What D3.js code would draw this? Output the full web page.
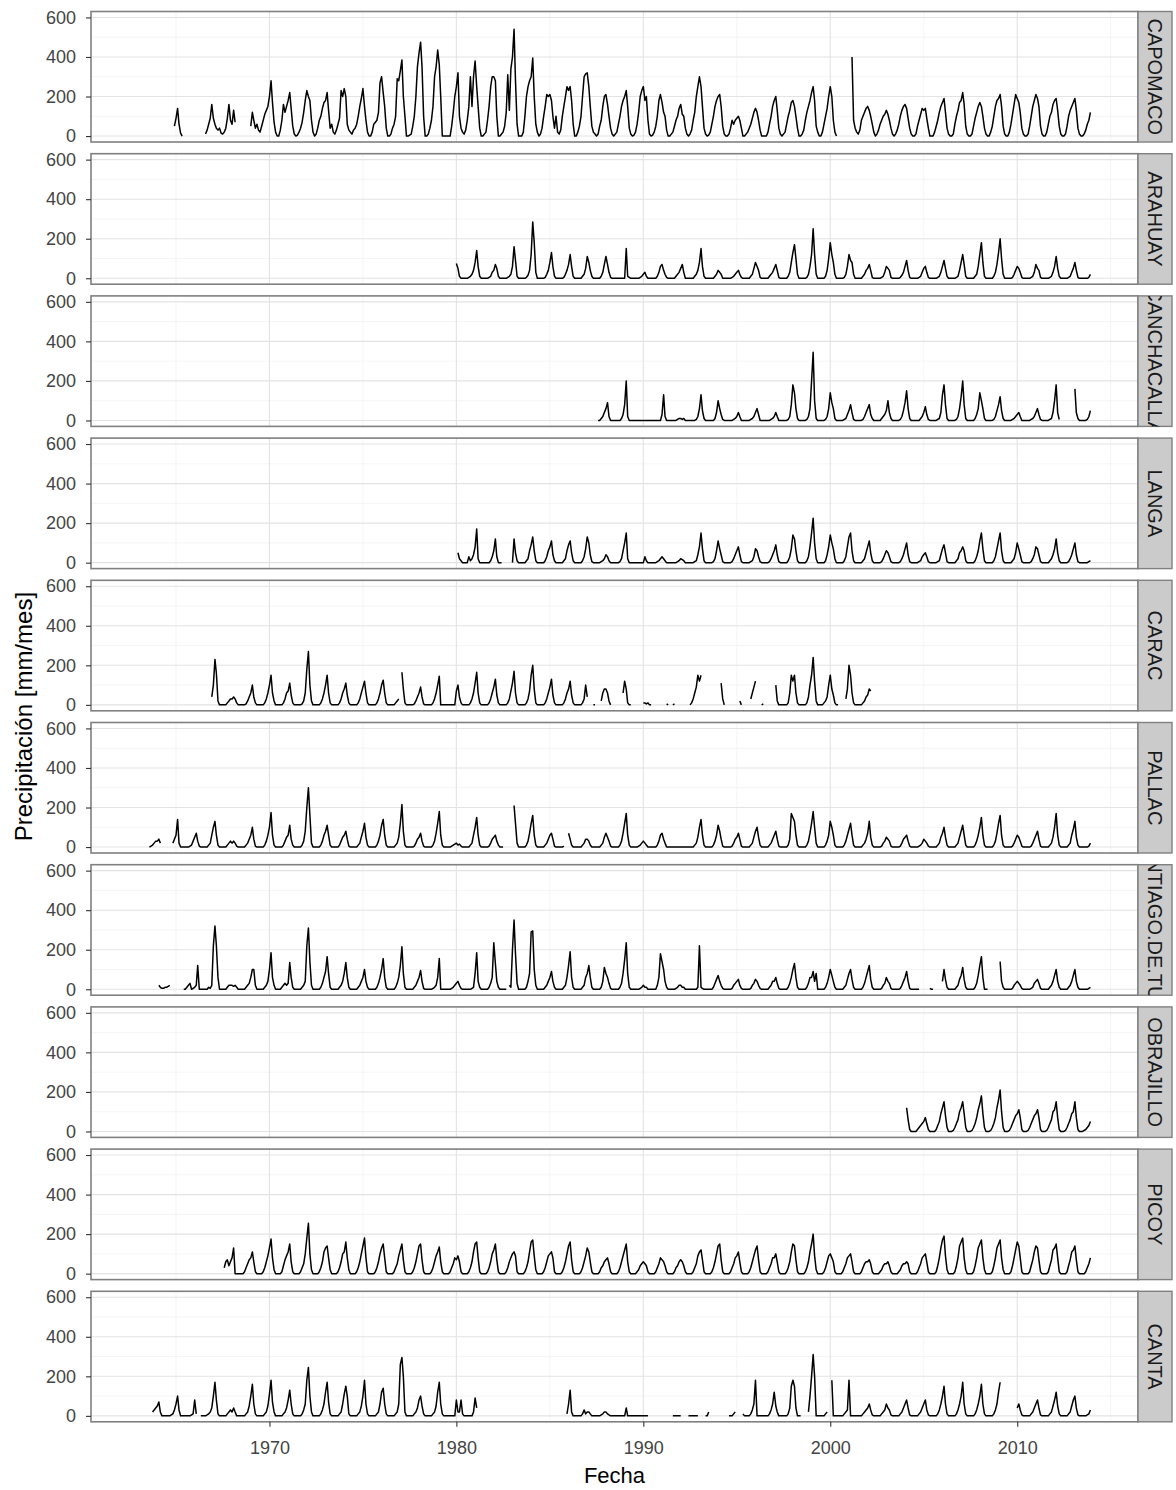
<!DOCTYPE html>
<html><head><meta charset="utf-8">
<script src="https://cdn.jsdelivr.net/npm/d3@7"></script>
<style>
body{margin:0;background:#fff}
svg{display:block}
text{font-family:"Liberation Sans",Arial,Helvetica,sans-serif}
</style>
</head><body>
<svg id="chart" width="1176" height="1490"></svg>
<script>
const N = null;

// Monthly precipitation (mm/mes), one row per year, Jan..Dec. null = missing.
const stationNames = ["CAPOMACO","ARAHUAY","CANCHACALLA","LANGA","CARAC","PALLAC","SANTIAGO.DE.TUNA","OBRAJILLO","PICOY","CANTA"];
const startYears   = [1964, 1980, 1987, 1980, 1966, 1963, 1963, 2004, 1967, 1963];

const capomaco = [
[N,N,N,N,N,N,N,N,N,N,N,50],
[90,140,60,15,0,N,N,N,N,N,N,N],
[N,N,N,N,N,N,N,10,30,60,90,160],
[90,60,40,30,40,15,10,20,40,90,160,80],
[60,130,70,N,N,N,N,N,N,N,N,N],
[50,120,80,40,60,30,20,50,80,110,130,150],
[200,280,170,70,20,0,0,30,80,160,120,150],
[180,220,140,50,10,0,5,20,40,70,120,180],
[230,200,180,80,20,0,10,40,80,100,140,170],
[180,220,130,40,60,20,10,30,60,90,230,200],
[240,200,60,30,20,10,30,40,60,100,150,190],
[240,150,80,20,0,0,20,60,70,80,120,270],
[300,220,150,40,0,0,10,40,60,100,290,280],
[330,385,200,100,0,0,5,10,50,100,200,350],
[420,475,350,100,0,0,10,40,80,150,300,350],
[435,360,200,0,0,0,0,0,0,50,120,200],
[250,320,100,40,20,10,30,80,150,300,150,300],
[380,250,150,40,0,0,10,20,80,150,250,300],
[300,280,100,0,0,10,20,50,120,310,130,340],
[400,540,280,60,0,0,0,20,100,200,250,280],
[300,395,200,60,20,0,10,40,100,150,210,200],
[210,180,100,40,100,20,10,30,100,150,200,250],
[230,250,180,60,0,0,20,50,100,200,300,315],
[320,250,150,50,20,10,0,10,50,80,150,200],
[210,160,100,40,10,0,10,20,60,100,150,180],
[200,230,150,40,10,0,5,20,60,120,200,230],
[250,180,200,80,10,0,5,20,50,100,180,210],
[170,120,100,30,0,0,10,20,50,80,100,140],
[160,110,100,40,10,0,10,30,80,120,200,250],
[300,250,150,40,10,0,5,20,60,100,150,180],
[200,210,150,50,10,0,0,10,40,80,60,80],
[90,100,80,40,0,0,10,20,40,60,90,120],
[140,120,80,30,0,0,0,0,20,60,100,150],
[180,200,130,40,10,0,10,20,60,100,130,170],
[180,150,100,40,0,0,10,30,80,120,150,180],
[220,250,180,50,20,0,0,20,60,100,140,200],
[250,200,80,20,0,N,N,N,N,N,N,N],
[N,N,400,80,40,20,10,30,80,100,120,140],
[150,130,100,60,20,0,10,30,60,80,100,110],
[130,110,80,40,10,0,10,30,60,100,130,150],
[160,140,90,40,10,0,0,10,50,80,110,140],
[130,140,90,40,0,0,0,20,50,80,120,150],
[170,190,120,40,10,0,0,10,60,100,130,170],
[180,220,160,50,10,0,0,10,50,90,120,150],
[170,150,100,40,10,0,0,20,50,100,150,180],
[190,210,150,50,10,0,0,20,60,110,160,210],
[190,170,120,40,10,0,0,10,50,100,150,180],
[210,190,150,50,10,0,0,20,60,100,120,160],
[180,190,130,50,10,0,0,10,50,100,130,150],
[170,190,130,40,10,0,0,10,30,60,80,120]
];

const arahuay = [
[75,50,10,0,0,0,0,0,5,10,20,40],
[80,140,60,10,0,0,0,0,0,5,10,30],
[40,70,50,10,0,0,0,0,0,5,10,20],
[60,160,90,10,0,0,0,0,0,5,15,40],
[120,285,180,30,0,0,0,0,0,5,20,40],
[80,130,60,10,0,0,0,0,0,5,20,40],
[70,120,60,10,0,0,0,0,0,10,20,50],
[110,80,40,10,0,0,0,0,0,10,30,70],
[110,70,30,5,0,0,0,0,0,0,0,0],
[0,150,10,5,0,0,0,0,0,0,5,10],
[20,30,10,0,0,0,0,0,0,10,30,60],
[70,40,20,5,0,0,0,0,0,10,20,30],
[50,70,30,0,0,0,0,0,0,10,20,40],
[80,150,60,10,0,0,0,0,0,0,10,20],
[40,30,20,0,0,0,0,0,0,5,10,20],
[30,40,20,5,0,0,0,0,0,10,20,50],
[80,60,40,5,0,0,0,0,0,10,20,30],
[50,70,40,5,0,0,0,0,0,10,30,80],
[130,170,100,20,0,0,0,0,0,5,20,60],
[120,250,120,20,0,0,0,0,0,10,40,100],
[180,120,80,20,0,0,0,0,0,5,20,60],
[120,90,80,20,0,0,0,0,0,10,20,40],
[50,70,40,5,0,0,0,0,0,5,10,30],
[60,50,40,5,0,0,0,0,0,5,15,30],
[60,90,40,5,0,0,0,0,0,5,10,30],
[50,60,30,5,0,0,0,0,0,5,10,30],
[60,90,50,10,0,0,0,0,0,5,10,40],
[80,120,70,10,0,0,0,0,0,10,20,60],
[120,180,80,10,0,0,0,0,0,10,30,70],
[130,200,100,20,0,0,0,0,0,5,20,40],
[60,50,30,5,0,0,0,0,0,5,10,30],
[70,50,40,5,0,0,0,0,0,5,10,30],
[60,110,50,10,0,0,0,0,0,5,10,30],
[50,80,40,5,0,0,0,0,0,0,5,20]
];

const canchacalla = [
[N,N,N,N,N,N,N,0,0,10,20,40],
[60,90,20,0,0,0,0,0,0,0,10,30],
[80,200,20,0,0,0,0,0,0,0,0,0],
[0,0,0,0,0,0,0,0,0,0,0,0],
[30,130,20,0,0,0,0,0,0,0,5,10],
[10,5,10,0,0,0,0,0,0,0,5,20],
[60,130,50,10,0,0,0,0,0,0,10,40],
[100,60,30,5,0,0,0,0,0,0,5,10],
[20,40,20,0,0,0,0,0,0,5,10,20],
[40,60,30,0,0,0,0,0,0,0,5,10],
[20,40,20,0,0,0,0,0,0,5,20,80],
[180,140,60,10,0,0,0,0,0,5,20,60],
[200,345,100,10,0,0,0,0,0,5,20,60],
[140,90,60,10,0,0,0,0,0,5,10,30],
[50,80,40,5,0,0,0,0,0,5,20,40],
[60,80,30,10,0,0,0,0,0,10,20,30],
[50,100,40,10,0,0,0,0,0,5,20,50],
[90,150,60,10,0,0,0,0,0,0,10,20],
[40,70,30,5,0,0,0,0,0,5,10,40],
[130,180,80,10,0,0,0,0,0,5,20,60],
[120,200,80,10,0,0,0,0,0,10,30,60],
[140,100,60,10,0,0,0,0,0,5,20,50],
[80,120,50,10,0,0,0,0,0,5,10,20],
[30,40,20,0,0,0,0,0,0,5,10,20],
[40,60,30,5,0,0,0,0,0,5,10,40],
[100,180,40,5,N,N,N,N,N,N,N,N],
[N,160,40,10,0,0,0,0,0,5,20,50]
];

const langa = [
[N,50,20,10,0,0,0,0,30,10,20,40],
[80,170,20,0,0,0,0,0,0,0,10,30],
[60,120,30,0,0,0,N,N,N,N,N,N],
[0,120,50,10,0,0,0,0,0,10,20,60],
[90,130,60,10,0,0,0,0,0,10,30,60],
[80,110,40,10,0,0,0,0,0,10,20,60],
[90,110,50,10,0,0,0,0,0,10,30,70],
[130,100,40,5,0,0,0,0,0,5,10,20],
[40,30,10,0,0,0,0,0,0,5,20,60],
[100,150,20,0,0,0,0,0,0,0,0,0],
[0,30,10,0,0,0,0,0,0,5,10,20],
[30,20,10,0,0,0,0,0,0,0,5,10],
[20,15,10,0,0,0,0,0,0,5,10,40],
[80,150,70,10,0,0,0,0,0,5,20,60],
[110,70,40,5,0,0,0,0,0,5,20,40],
[60,80,40,5,0,0,0,0,0,5,10,30],
[70,60,30,5,0,0,0,0,0,5,20,40],
[60,90,40,5,0,0,0,0,0,10,30,70],
[140,120,60,10,0,0,0,0,0,10,30,80],
[150,225,100,20,0,0,0,0,0,10,40,80],
[140,100,70,20,0,0,0,0,0,10,30,80],
[130,150,60,10,0,0,0,0,0,10,20,50],
[80,110,50,10,0,0,0,0,0,5,20,40],
[60,50,30,5,0,0,0,0,0,5,20,40],
[70,100,40,5,0,0,0,0,0,5,10,30],
[40,50,30,5,0,0,0,0,0,5,10,40],
[70,90,50,5,0,0,0,0,0,10,20,50],
[60,80,60,10,0,0,0,0,0,10,30,60],
[110,150,70,10,0,0,0,0,0,10,30,70],
[110,150,60,10,0,0,0,0,0,10,20,50],
[100,70,40,5,0,0,0,0,0,5,20,40],
[80,70,40,5,0,0,0,0,0,10,20,40],
[70,120,50,10,0,0,0,0,0,5,20,40],
[70,100,40,5,0,0,0,0,0,0,5,10]
];

const carac = [
[N,N,N,N,N,N,N,N,N,N,N,40],
[100,230,160,20,0,0,0,0,0,10,20,30],
[30,40,30,10,0,0,0,0,0,5,20,40],
[60,100,40,10,0,0,0,0,0,10,30,60],
[100,150,60,20,0,0,0,0,0,10,30,60],
[70,110,50,10,0,0,0,0,0,5,20,60],
[180,270,100,20,0,0,0,0,0,10,30,60],
[100,150,60,10,0,0,0,0,0,10,30,60],
[80,110,50,10,0,0,0,0,0,10,30,60],
[90,120,60,10,0,0,0,0,0,10,30,60],
[100,125,60,10,0,0,0,0,0,10,20,30],
[N,165,80,10,0,0,0,0,0,5,20,40],
[60,90,40,5,0,0,0,0,0,10,30,60],
[100,145,0,0,0,0,0,0,0,0,0,0],
[70,100,40,10,0,0,0,0,0,10,30,60],
[110,165,60,10,0,0,0,0,0,10,30,60],
[90,130,50,10,0,0,0,0,0,10,30,70],
[110,170,60,10,0,0,0,0,0,10,30,70],
[150,200,80,10,0,0,0,0,0,10,30,60],
[90,130,50,10,0,0,0,0,0,10,30,60],
[80,120,50,10,0,0,0,0,0,10,30,100],
[40,N,N,N,0,0,N,N,N,20,60,80],
[80,60,20,0,N,N,N,N,N,N,N,60],
[120,80,10,0,0,N,N,N,N,N,N,N],
[10,10,5,10,0,0,N,N,N,N,N,N],
[N,N,N,5,0,N,N,0,5,N,N,N],
[N,N,N,N,N,N,0,10,30,60,90,150],
[120,150,N,N,N,N,N,N,N,N,N,N],
[N,N,110,30,0,N,N,N,N,N,N,N],
[N,N,20,0,N,N,N,N,N,30,60,90],
[120,N,N,N,0,5,N,N,N,N,N,N],
[N,100,20,0,0,0,0,0,0,10,60,150],
[120,150,60,10,0,0,0,0,0,10,40,100],
[150,240,120,20,0,0,0,0,10,20,40,100],
[150,80,50,10,0,0,N,N,N,N,30,80],
[200,150,60,10,0,0,0,0,0,10,20,40],
[50,80,70,N,N,N,N,N,N,N,N,N]
];

const pallac = [
[N,N,N,N,N,N,N,0,5,10,20,30],
[30,40,20,N,N,N,N,N,N,N,20,40],
[60,140,20,0,0,0,0,0,0,5,10,30],
[50,70,30,5,0,0,0,0,0,10,20,60],
[100,130,60,10,0,0,0,0,0,10,20,30],
[20,30,20,5,0,0,0,0,0,10,20,40],
[60,100,40,5,0,0,0,0,0,10,30,60],
[100,175,60,10,0,0,0,0,0,10,30,50],
[60,110,40,10,0,0,0,0,0,10,30,80],
[200,300,160,20,0,0,0,0,0,10,30,60],
[80,110,60,10,0,0,0,0,0,10,30,50],
[60,80,40,5,0,0,0,0,0,10,20,50],
[80,120,50,10,0,0,0,0,0,10,30,60],
[110,140,60,10,0,0,0,0,0,10,20,50],
[120,215,80,10,0,0,0,0,0,5,20,40],
[50,70,30,5,0,0,0,0,0,10,30,70],
[120,180,60,10,0,0,0,0,0,5,10,15],
[20,10,15,5,0,0,0,0,0,10,20,60],
[100,150,60,10,0,0,0,0,0,5,20,40],
[50,60,30,10,0,0,0,N,N,N,N,N],
[N,210,120,20,0,0,0,0,0,10,30,70],
[120,160,60,10,0,0,0,0,0,10,20,40],
[60,70,40,5,0,0,0,0,0,5,N,N],
[70,40,10,0,0,0,0,0,0,10,20,40],
[40,30,10,0,0,0,0,0,0,10,20,50],
[70,50,30,5,0,0,0,0,0,10,30,70],
[120,170,60,10,0,0,0,0,0,5,10,20],
[30,20,10,0,0,0,0,0,0,10,30,60],
[70,40,20,0,0,0,0,0,0,0,0,0],
[0,0,0,0,0,0,0,0,0,10,20,50],
[100,140,60,10,0,0,0,0,0,10,30,60],
[110,80,40,5,0,0,0,0,0,5,20,40],
[50,70,40,5,0,0,0,0,0,10,20,50],
[80,100,50,10,0,0,0,0,0,10,20,40],
[60,80,40,5,0,0,0,0,0,10,40,170],
[150,130,60,10,0,0,0,0,0,10,30,70],
[120,180,100,20,0,0,0,0,0,10,30,60],
[130,100,60,10,0,0,0,0,0,10,30,60],
[90,120,60,10,0,0,0,0,0,10,20,40],
[70,130,50,10,0,0,0,0,0,5,20,30],
[50,40,30,5,0,0,0,0,0,5,20,40],
[50,60,30,5,0,0,0,0,0,5,10,20],
[40,30,20,5,0,0,0,0,0,10,20,50],
[70,100,50,10,0,0,0,0,0,10,20,50],
[80,110,60,10,0,0,0,0,0,10,30,60],
[100,150,60,10,0,0,0,0,0,10,30,70],
[120,160,60,10,0,0,0,0,0,5,20,40],
[60,50,30,5,0,0,0,0,0,5,20,40],
[60,80,40,5,0,0,0,0,0,10,20,50],
[100,170,60,10,0,0,0,0,0,10,20,60],
[90,130,50,10,0,0,0,0,0,0,5,20]
];

const santiago = [
[N,N,N,N,N,N,N,N,N,0,N,N],
[N,20,10,5,5,10,10,15,20,N,N,N],
[N,N,N,N,N,0,0,10,20,30,0,5],
[10,20,120,0,0,0,0,0,0,10,5,20],
[220,320,220,60,0,0,0,0,0,10,20,20],
[20,15,20,10,0,0,0,0,0,10,20,30],
[60,100,100,20,0,0,0,0,0,10,20,40],
[100,185,60,20,0,0,0,0,10,20,30,20],
[30,135,60,10,0,0,0,0,0,10,20,40],
[220,310,140,20,0,0,0,0,0,10,30,60],
[90,165,80,10,0,0,0,0,0,10,20,40],
[80,135,60,10,0,0,0,0,0,10,20,40],
[60,100,40,10,0,0,0,0,0,10,30,60],
[100,155,60,10,0,0,0,0,0,10,30,60],
[120,215,80,10,0,0,0,0,0,10,20,40],
[60,95,40,5,0,0,0,0,0,5,10,20],
[60,155,0,0,0,0,0,0,0,5,10,20],
[30,40,20,5,0,0,0,0,0,0,5,10],
[80,185,40,10,0,0,0,0,0,10,30,60],
[235,130,40,10,0,0,0,0,0,N,20,10],
[200,350,180,30,0,0,0,0,0,10,40,80],
[290,295,100,20,0,0,0,0,0,10,20,40],
[60,90,40,10,0,0,0,0,0,10,20,60],
[120,190,60,10,0,0,0,0,0,10,20,60],
[80,120,60,10,0,0,0,0,0,10,40,110],
[80,60,30,5,0,0,0,0,0,10,30,80],
[150,235,80,10,0,0,0,0,0,0,5,10],
[20,10,10,0,0,0,0,0,0,20,60,180],
[140,100,40,10,0,0,0,0,0,5,10,20],
[20,10,10,0,0,0,0,0,0,0,0,10],
[220,10,5,0,0,0,0,0,0,10,30,50],
[70,40,20,5,0,0,0,0,0,5,20,30],
[40,50,20,5,0,0,0,0,0,5,20,30],
[50,40,20,5,0,0,0,0,0,10,20,40],
[40,60,30,5,0,0,0,0,0,10,30,60],
[100,130,60,10,0,0,0,0,0,10,30,60],
[60,90,40,80,0,0,0,0,0,10,30,60],
[100,70,40,10,0,0,0,0,0,10,20,50],
[80,100,50,10,0,0,0,0,0,10,30,60],
[90,120,50,10,0,0,0,0,0,5,20,30],
[60,40,30,5,0,0,0,0,0,5,20,40],
[60,90,40,5,0,0,0,0,0,0,N,N],
[N,N,N,N,5,0,0,N,N,N,N,N],
[40,100,50,10,0,0,0,0,0,10,20,50],
[70,110,50,10,0,0,0,0,0,10,30,70],
[120,165,60,0,0,0,N,N,N,N,N,N],
[N,140,40,10,0,0,0,0,0,5,20,30],
[40,30,20,5,0,0,0,0,0,5,10,30],
[40,50,30,5,0,0,0,0,0,10,20,40],
[70,100,40,10,0,0,0,0,0,10,20,40],
[70,100,40,10,0,0,0,0,0,0,5,10]
];

const obrajillo = [
[N,120,60,10,0,0,0,0,10,20,30,40],
[50,70,40,10,0,0,0,0,10,30,50,90],
[120,150,80,20,0,0,0,5,20,40,60,100],
[120,150,90,20,0,0,0,5,20,40,70,110],
[140,180,90,20,0,0,0,5,20,40,70,120],
[160,210,100,20,0,0,0,5,20,40,60,80],
[90,110,70,10,0,0,0,5,20,40,60,80],
[90,110,70,10,0,0,0,5,20,40,60,100],
[110,150,70,10,0,0,0,5,20,40,60,90],
[100,150,70,10,0,0,0,5,10,20,30,50]
];

const picoy = [
[N,N,N,N,N,N,N,30,60,70,40,60],
[80,130,0,0,0,0,0,0,10,30,50,70],
[80,110,60,10,0,0,0,0,10,30,60,90],
[130,175,80,20,0,0,0,0,10,40,70,90],
[110,150,60,10,0,0,0,0,10,30,50,100],
[180,255,100,20,0,0,0,0,10,30,60,110],
[130,140,80,20,0,0,0,0,10,30,60,100],
[110,160,80,20,0,0,0,0,10,30,60,100],
[140,180,80,10,0,0,0,0,10,30,60,100],
[130,150,80,10,0,0,0,0,10,30,50,90],
[120,150,70,10,0,0,0,0,10,30,60,100],
[140,150,70,10,0,0,0,0,10,30,60,90],
[110,135,60,10,0,0,0,0,10,30,50,80],
[70,90,60,10,0,0,0,0,10,30,60,110],
[150,160,80,10,0,0,0,0,10,30,60,100],
[120,150,70,10,0,0,0,0,10,30,60,80],
[100,110,90,10,0,0,0,0,10,30,60,110],
[160,170,90,20,0,0,0,0,10,30,60,90],
[100,110,80,10,0,0,0,0,10,30,60,100],
[140,160,70,10,0,0,0,0,10,30,60,90],
[130,110,60,10,0,0,0,0,10,30,40,60],
[70,80,50,10,0,0,0,0,10,30,60,90],
[120,150,60,10,0,0,0,0,10,20,40,50],
[60,50,40,10,0,0,0,0,10,30,50,80],
[70,60,40,10,0,0,0,0,10,30,40,60],
[70,60,40,10,0,0,0,0,10,30,50,90],
[110,120,70,10,0,0,0,0,10,30,60,100],
[140,150,70,10,0,0,0,0,10,30,50,80],
[90,110,60,10,0,0,0,0,10,30,60,90],
[120,140,70,10,0,0,0,0,10,30,50,80],
[80,100,60,10,0,0,0,0,10,30,60,110],
[150,140,70,10,0,0,0,0,10,30,60,110],
[150,200,90,20,0,0,0,0,10,30,60,90],
[100,80,60,10,0,0,0,0,10,30,50,80],
[90,100,60,10,0,0,0,0,10,30,50,60],
[60,70,50,10,0,0,0,0,10,20,40,50],
[50,60,40,10,0,0,0,0,10,20,40,50],
[50,60,50,10,0,0,0,0,10,30,50,80],
[90,100,60,10,0,0,0,0,10,40,80,130],
[170,190,90,20,0,0,0,0,10,40,80,140],
[160,180,80,20,0,0,0,0,10,40,80,130],
[150,170,80,20,0,0,0,0,10,40,80,130],
[150,170,80,20,0,0,0,0,10,40,80,120],
[160,140,80,10,0,0,0,0,10,40,70,110],
[140,130,70,10,0,0,0,0,10,40,70,120],
[130,150,80,10,0,0,0,0,10,40,70,110],
[120,140,70,10,0,0,0,0,10,30,50,80]
];

const canta = [
[N,N,N,N,N,N,N,N,N,20,30,40],
[50,70,20,0,0,0,0,0,0,5,10,30],
[60,100,30,0,0,0,0,0,0,0,5,10],
[80,10,N,N,0,0,0,0,5,10,20,40],
[100,170,80,10,0,0,0,0,0,10,20,30],
[20,40,20,0,0,0,0,0,0,10,20,50],
[100,160,60,10,0,0,0,0,0,10,20,50],
[110,180,70,20,0,0,0,0,0,10,20,40],
[80,130,60,10,0,0,0,0,0,10,30,60],
[180,245,100,20,0,0,0,0,0,10,30,60],
[120,170,70,10,0,0,0,0,0,10,20,60],
[110,150,100,10,0,0,0,0,0,10,20,50],
[100,180,60,10,0,0,0,0,0,10,20,60],
[120,140,60,10,0,0,0,0,0,10,20,60],
[260,295,200,20,0,0,0,0,0,10,20,40],
[80,100,50,10,0,0,0,0,0,10,20,50],
[120,170,60,10,0,0,0,0,0,0,0,0],
[80,20,20,80,10,0,0,0,0,0,0,20],
[90,40,N,N,N,N,N,N,N,N,N,N],
[N,N,N,N,N,N,N,N,N,N,N,N],
[N,N,N,N,N,N,N,N,N,N,N,N],
[N,N,N,N,N,N,N,N,N,N,N,N],
[N,N,N,N,N,N,N,N,N,N,N,10],
[60,130,20,0,0,0,0,0,0,10,30,10],
[20,20,10,0,0,0,0,0,0,5,10,20],
[20,10,5,0,0,0,0,0,0,0,0,0],
[0,40,0,0,0,0,0,0,0,0,0,0],
[0,0,0,0,N,N,N,N,N,N,N,N],
[N,N,N,N,N,N,N,0,0,0,0,0],
[0,N,N,N,N,0,0,0,0,0,0,0],
[N,N,N,N,0,0,20,N,N,N,N,N],
[N,N,N,N,N,N,N,0,0,0,10,20],
[N,N,N,N,10,0,0,0,0,10,30,60],
[180,0,0,0,0,0,0,0,0,10,30,60],
[120,50,20,0,0,0,0,0,0,10,40,150],
[180,150,40,0,0,0,N,N,N,N,20,100],
[200,310,200,0,0,0,0,0,0,10,20,N],
[N,180,0,0,0,0,0,0,0,10,20,30],
[180,0,0,0,0,0,0,0,0,10,20,30],
[40,60,30,5,0,0,0,0,0,10,20,30],
[60,40,30,5,0,0,0,0,0,10,20,40],
[60,80,40,5,0,0,0,0,0,10,20,40],
[60,80,30,5,0,0,0,0,0,10,30,60],
[100,150,60,10,0,0,0,0,0,10,30,60],
[100,170,60,10,0,0,0,0,0,10,30,60],
[100,160,60,10,0,0,0,0,0,10,30,60],
[120,170,N,N,N,N,N,N,N,N,N,N],
[40,60,30,5,0,0,0,0,0,10,20,40],
[60,80,40,5,0,0,0,0,0,10,20,50],
[80,120,50,10,0,0,0,0,0,10,20,50],
[80,100,40,5,0,0,0,0,0,5,10,30]
];

const stationRows = [capomaco, arahuay, canchacalla, langa, carac, pallac, santiago, obrajillo, picoy, canta];

const yTickValues = [0, 200, 400, 600];
const yMinorValues = [100, 300, 500];
const xTickYears = [1970, 1980, 1990, 2000, 2010];
const xMinorYears = [1965, 1975, 1985, 1995, 2005, 2015];
const firstMonth = [1963, 0];
const lastMonth = [2013, 11];

// ---- build series ----
const series = stationRows.map((rows, i) => {
  const pts = [];
  rows.forEach((row, r) => row.forEach((v, m) => pts.push({ date: new Date(startYears[i] + r, m, 1), v })));
  return pts;
});

// ---- layout ----
const L = 91, R = 1138, top0 = 11.5, step = 142.2, H = 130.5, stripW = 34;

const d0 = new Date(firstMonth[0], firstMonth[1], 1), d1 = new Date(lastMonth[0], lastMonth[1], 1);
const span = d1 - d0;
const x = d3.scaleTime()
  .domain([new Date(+d0 - 0.05 * span), new Date(+d1 + 0.05 * span)])
  .range([L, R]);
const y = d3.scaleLinear().domain([-30, 630]).range([H, 0]);

const svg = d3.select("#chart");
svg.append("rect").attr("width", 1176).attr("height", 1490).attr("fill", "#fff");

const line = d3.line()
  .defined(d => d.v !== null && d.v !== undefined)
  .x(d => x(d.date))
  .y(d => y(d.v));

stationNames.forEach((name, i) => {
  const g = svg.append("g").attr("transform", `translate(0,${top0 + i * step})`);

  g.append("rect").attr("x", L).attr("y", 0).attr("width", R - L).attr("height", H).attr("fill", "#fff");

  // minor grid
  g.selectAll(".ymin").data(yMinorValues).enter().append("line")
    .attr("x1", L).attr("x2", R).attr("y1", d => y(d)).attr("y2", d => y(d))
    .attr("stroke", "#f3f3f3").attr("stroke-width", 0.8);
  g.selectAll(".xmin").data(xMinorYears.map(yy => new Date(yy, 0, 1))).enter().append("line")
    .attr("y1", 0).attr("y2", H).attr("x1", d => x(d)).attr("x2", d => x(d))
    .attr("stroke", "#f3f3f3").attr("stroke-width", 0.8);
  // major grid
  g.selectAll(".ymaj").data(yTickValues).enter().append("line")
    .attr("x1", L).attr("x2", R).attr("y1", d => y(d)).attr("y2", d => y(d))
    .attr("stroke", "#e3e3e3").attr("stroke-width", 1.1);
  g.selectAll(".xmaj").data(xTickYears.map(yy => new Date(yy, 0, 1))).enter().append("line")
    .attr("y1", 0).attr("y2", H).attr("x1", d => x(d)).attr("x2", d => x(d))
    .attr("stroke", "#e3e3e3").attr("stroke-width", 1.1);

  // data line
  g.append("path").datum(series[i])
    .attr("d", line)
    .attr("fill", "none")
    .attr("stroke", "#000")
    .attr("stroke-width", 1.5)
    .attr("stroke-linejoin", "round");

  // panel border
  g.append("rect").attr("x", L).attr("y", 0).attr("width", R - L).attr("height", H)
    .attr("fill", "none").attr("stroke", "#808080").attr("stroke-width", 1.6);

  // strip
  const clipId = "clip-strip-" + i;
  g.append("clipPath").attr("id", clipId).append("rect")
    .attr("x", R).attr("y", 0).attr("width", stripW).attr("height", H);
  g.append("rect").attr("x", R).attr("y", 0).attr("width", stripW).attr("height", H)
    .attr("fill", "#cbcbcb").attr("stroke", "#808080").attr("stroke-width", 1.4);
  g.append("g").attr("clip-path", `url(#${clipId})`)
    .append("text")
    .attr("transform", `translate(${R + stripW / 2},${H / 2}) rotate(90)`)
    .attr("text-anchor", "middle").attr("dy", "0.36em")
    .attr("font-size", 20).attr("fill", "#1a1a1a")
    .text(name);

  // y axis
  const ya = g.append("g").attr("transform", `translate(${L},0)`)
    .call(d3.axisLeft(y).tickValues(yTickValues).tickSize(5).tickPadding(10));
  ya.select(".domain").remove();
  ya.selectAll(".tick line").attr("stroke", "#333").attr("stroke-width", 1.1);
  ya.selectAll(".tick text").attr("font-size", 18).attr("fill", "#444")
    .attr("font-family", "'Liberation Sans', Arial, sans-serif");

  if (i === stationNames.length - 1) {
    const xa = g.append("g").attr("transform", `translate(0,${H})`)
      .call(d3.axisBottom(x).tickValues(xTickYears.map(yy => new Date(yy, 0, 1)))
        .tickFormat(d3.timeFormat("%Y")).tickSize(5).tickPadding(14));
    xa.select(".domain").remove();
    xa.selectAll(".tick line").attr("stroke", "#333").attr("stroke-width", 1.1);
    xa.selectAll(".tick text").attr("font-size", 18).attr("fill", "#444")
      .attr("font-family", "'Liberation Sans', Arial, sans-serif");
  }
});

// axis titles
svg.append("text")
  .attr("x", (L + R) / 2).attr("y", 1483)
  .attr("text-anchor", "middle").attr("font-size", 22).attr("fill", "#000")
  .text("Fecha");
svg.append("text")
  .attr("transform", `translate(32,${top0 + (9 * step + H) / 2}) rotate(-90)`)
  .attr("text-anchor", "middle").attr("font-size", 24).attr("fill", "#000")
  .text("Precipitación [mm/mes]");
</script>
</body></html>
